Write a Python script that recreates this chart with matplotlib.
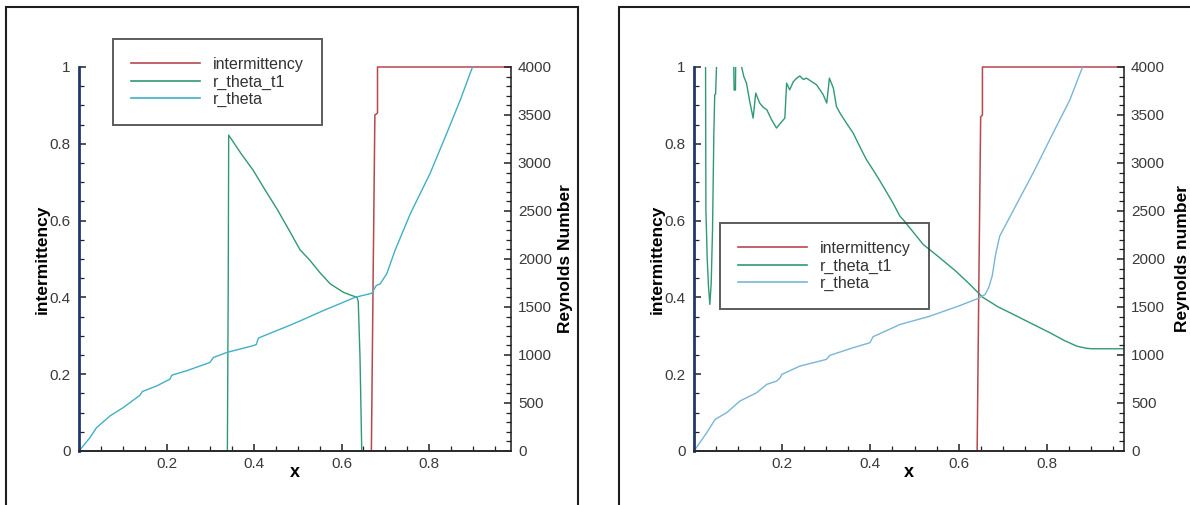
import matplotlib
matplotlib.use("Agg")
import matplotlib.pyplot as plt
from matplotlib.lines import Line2D
from matplotlib.patches import Rectangle
from matplotlib.ticker import FixedLocator, FuncFormatter, MultipleLocator

plt.rcParams["font.family"] = ["Liberation Sans", "DejaVu Sans"]

W, H = 1190, 505

# ---- left case --------------------------------------------------------
left_int_x = [0.0, 0.668, 0.672, 0.676, 0.682, 0.682, 0.987]
left_int_y = [0.0, 0.0, 0.45, 0.875, 0.88, 1.0, 1.0]

left_t1_x = [0.0, 0.339, 0.341, 0.342, 0.37, 0.398, 0.425, 0.452, 0.48, 0.505,
             0.528, 0.55, 0.574, 0.604, 0.62, 0.635, 0.638, 0.642, 0.646, 0.987]
left_t1_re = [0, 0, 1800, 3290, 3100, 2924, 2720, 2524, 2300, 2096,
              1984, 1860, 1741, 1653, 1625, 1601, 1560, 980, 0, 0]

left_rt_x = [0.0, 0.025, 0.04, 0.071, 0.101, 0.139, 0.145, 0.178, 0.208, 0.212,
             0.246, 0.299, 0.307, 0.338, 0.398, 0.405, 0.41, 0.482, 0.505, 0.558,
             0.631, 0.669, 0.679, 0.688, 0.703, 0.722, 0.757, 0.802, 0.84, 0.871,
             0.898, 0.91]
left_rt_re = [0, 139, 243, 366, 452, 580, 620, 679, 749, 790,
              836, 922, 974, 1027, 1097, 1110, 1177, 1310, 1355, 1462,
              1601, 1643, 1723, 1741, 1845, 2089, 2472, 2890, 3307, 3655,
              3987, 4130]

# ---- right case -------------------------------------------------------
right_int_x = [0.0, 0.642, 0.646, 0.650, 0.654, 0.654, 0.975]
right_int_y = [0.0, 0.0, 0.45, 0.87, 0.875, 1.0, 1.0]

right_t1_x = [0.0, 0.026, 0.027, 0.030, 0.033, 0.036, 0.039, 0.042, 0.045, 0.047,
              0.049, 0.051, 0.06, 0.089, 0.091, 0.094, 0.095, 0.105, 0.108, 0.113,
              0.119, 0.126, 0.134, 0.14, 0.149, 0.157, 0.165, 0.176, 0.187, 0.197,
              0.206, 0.21, 0.217, 0.225, 0.232, 0.24, 0.248, 0.255, 0.266, 0.278,
              0.293, 0.301, 0.307, 0.316, 0.323, 0.331, 0.345, 0.361, 0.376, 0.391,
              0.41, 0.429, 0.451, 0.467, 0.474, 0.52, 0.55, 0.592, 0.62, 0.655,
              0.69, 0.721, 0.76, 0.807, 0.84, 0.868, 0.89, 0.901, 0.975]
right_t1_re = [4400, 4400, 2510, 2000, 1700, 1527, 1750, 2300, 3300, 3710,
               3720, 4000, 4400, 4300, 3760, 3760, 4300, 4100, 4000, 3900,
               3832, 3650, 3468, 3728, 3624, 3580, 3555, 3450, 3364, 3420,
               3468, 3832, 3762, 3846, 3880, 3907, 3870, 3884, 3850, 3814,
               3711, 3624, 3884, 3780, 3589, 3520, 3420, 3311, 3170, 3035,
               2900, 2757, 2584, 2445, 2411, 2150, 2040, 1880, 1760, 1600,
               1500, 1430, 1340, 1232, 1150, 1092, 1070, 1065, 1065]

right_rt_x = [0.0, 0.029, 0.048, 0.074, 0.104, 0.142, 0.165, 0.187, 0.195, 0.199,
              0.24, 0.30, 0.308, 0.361, 0.399, 0.406, 0.467, 0.532, 0.6, 0.645,
              0.66, 0.668, 0.676, 0.684, 0.693, 0.731, 0.769, 0.814, 0.852, 0.881,
              0.9]
right_rt_re = [0, 191, 330, 399, 520, 607, 694, 728, 760, 798,
               884, 954, 996, 1076, 1128, 1190, 1318, 1400, 1510, 1590,
               1630, 1700, 1820, 2050, 2236, 2567, 2896, 3311, 3655, 4000,
               4200]

legend_labels = ["intermittency", "r_theta_t1", "r_theta"]

RED = "#b8474f"
GREEN = "#2f9a72"
NAVY = "#24366a"

right_label_x = {"Reynolds Number": 1.108, "Reynolds number": 1.118}


def draw_panel(fig, rect, xmax, int_x, int_y, t1_x, t1_re, rt_x, rt_re,
               cyan, right_label, legend_xy):
    ax = fig.add_axes(rect)
    ax.plot(int_x, int_y, color=RED, lw=1.1, clip_on=False, zorder=2)
    ax.set_xlim(0, xmax)
    ax.set_ylim(0, 1)

    ax2 = ax.twinx()
    ax2.plot(t1_x, t1_re, color=GREEN, lw=1.0)
    ax2.plot(rt_x, rt_re, color=cyan, lw=1.0)
    ax2.set_ylim(0, 4000)

    for s in ax.spines.values():
        s.set_visible(False)
    ax2.spines["top"].set_visible(False)
    ax2.spines["left"].set_color(NAVY)
    ax2.spines["left"].set_linewidth(2.0)
    ax2.spines["bottom"].set_color("#2a2a2a")
    ax2.spines["bottom"].set_linewidth(1.4)
    ax2.spines["right"].set_color("#1a1a1a")
    ax2.spines["right"].set_linewidth(1.1)

    ax.xaxis.set_major_locator(FixedLocator([0.2, 0.4, 0.6, 0.8]))
    ax.xaxis.set_minor_locator(MultipleLocator(0.05))
    ax.yaxis.set_major_locator(MultipleLocator(0.2))
    ax.yaxis.set_minor_locator(MultipleLocator(0.05))
    ax.yaxis.set_major_formatter(FuncFormatter(lambda v, _: f"{v:g}"))
    ax2.yaxis.set_major_locator(MultipleLocator(500))
    ax2.yaxis.set_minor_locator(MultipleLocator(100))

    for a in (ax, ax2):
        a.tick_params(which="both", direction="in", top=False, colors="#222222",
                      labelcolor="#3a3a3a", labelsize=11)
        a.tick_params(which="major", length=5, width=1.1)
        a.tick_params(which="minor", length=3.5, width=0.9)
    ax.tick_params(axis="y", right=False, pad=6)
    ax.tick_params(axis="x", pad=4)
    ax2.tick_params(axis="y", left=False, pad=5)

    ax.set_xlabel("x", fontsize=13, fontweight="bold")
    ax.xaxis.set_label_coords(0.5, -0.034)
    ax.set_ylabel("intermittency", fontsize=12.5, fontweight="bold")
    ax.yaxis.set_label_coords(-0.067, 0.5)
    ax2.set_ylabel(right_label, fontsize=12.5, fontweight="bold")
    ax2.yaxis.set_label_coords(right_label_x[right_label], 0.5)

    handles = [Line2D([], [], color=c, lw=1.2) for c in (RED, GREEN, cyan)]
    leg = fig.legend(handles, legend_labels, loc="upper left",
                     bbox_to_anchor=(legend_xy[0] / W, 1 - legend_xy[1] / H),
                     bbox_transform=fig.transFigure, borderaxespad=0,
                     fancybox=False, edgecolor="#333333", facecolor="none",
                     fontsize=11.5, handlelength=4.3, handletextpad=0.85,
                     borderpad=1.13, labelspacing=0.15)
    leg.get_frame().set_linewidth(1.4)
    for t in leg.get_texts():
        t.set_color("#333333")
    return ax, ax2


fig = plt.figure(figsize=(W / 100, H / 100), dpi=100)
fig.patch.set_facecolor("white")

# outer frames around each plot
fig.add_artist(Rectangle((6 / W, -0.1), 572 / W, 1.1 - 7 / H,
                         transform=fig.transFigure, fill=False, lw=1.5, ec="#1e1e1e"))
fig.add_artist(Rectangle((619 / W, -0.1), 0.5, 1.1 - 7 / H,
                         transform=fig.transFigure, fill=False, lw=1.5, ec="#1e1e1e"))

draw_panel(fig, [79 / W, 1 - 451 / H, 432 / W, 384 / H], 0.987,
           left_int_x, left_int_y, left_t1_x, left_t1_re, left_rt_x, left_rt_re,
           "#3fb0c6", "Reynolds Number", (113, 39))
draw_panel(fig, [694 / W, 1 - 451 / H, 430 / W, 384 / H], 0.975,
           right_int_x, right_int_y, right_t1_x, right_t1_re, right_rt_x, right_rt_re,
           "#78b6d8", "Reynolds number", (720, 223))

fig.savefig("out.png", dpi=100)
